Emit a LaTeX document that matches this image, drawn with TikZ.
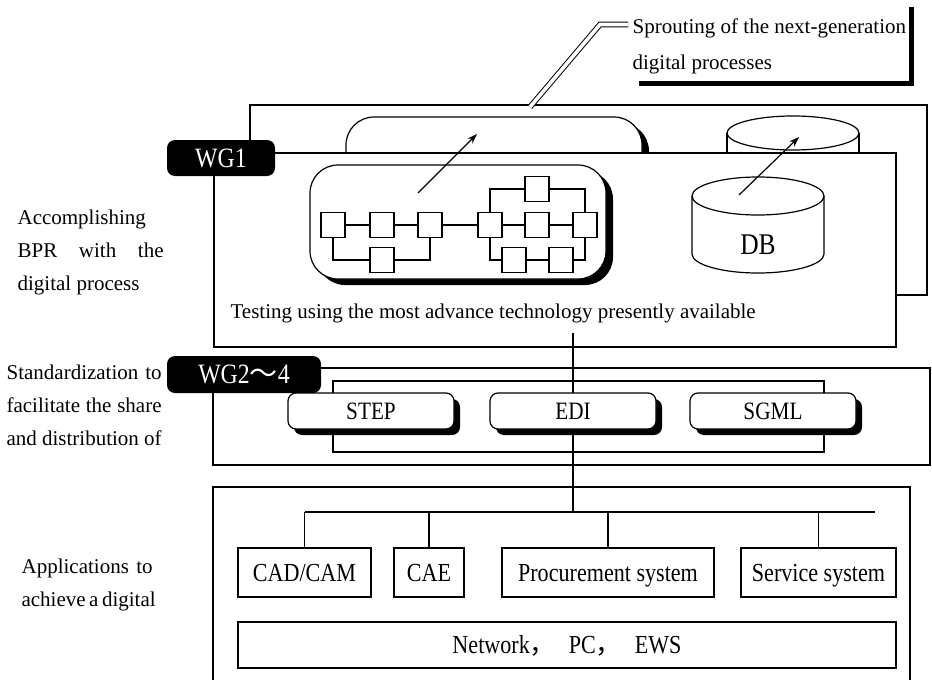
\documentclass[tikz,border=0pt]{standalone}
\usepackage{fontspec}
\setmainfont{Liberation Serif}
\newfontfamily\narrowfont[FakeStretch=0.85]{Liberation Serif}
\newfontfamily\cjkfont{Noto Sans CJK SC}
\usetikzlibrary{arrows.meta,calc,positioning,shadows}

\begin{document}
\begin{tikzpicture}[
  x=0.5pt, y=-0.5pt,
  >={Stealth[length=5pt,width=3.5pt]},
  line width=0.6pt,
  font=\fontsize{10.5}{16.5}\selectfont,
  bigpill/.style={draw, fill=white, rounded corners=14pt, minimum width=148pt, minimum height=57pt,
    drop shadow={shadow xshift=3.5pt, shadow yshift=-3pt, fill=black, opacity=1}},
  stdpill/.style={draw, fill=white, rounded corners=4pt, minimum width=83pt, minimum height=18pt, inner sep=0pt,
    font={\narrowfont\fontsize{12.5}{14}\selectfont}, text height=8.2pt, text depth=0pt,
    drop shadow={shadow xshift=3pt, shadow yshift=-3pt, fill=black, opacity=1}},
  wglabel/.style={fill=black, text=white, rounded corners=4pt, inner sep=0pt,
    font={\narrowfont\fontsize{14}{16}\selectfont}, text height=9.2pt, text depth=0pt},
  procbox/.style={draw, fill=white, minimum width=12pt, minimum height=12.5pt, inner sep=0pt},
  appbox/.style={draw, fill=white, minimum height=24.5pt, inner sep=0pt,
    font={\narrowfont\fontsize{13}{15}\selectfont}, text height=8.6pt, text depth=0pt},
  sidenote/.style={anchor=north west, inner sep=0pt, align=left},
  flow/.style={->}
]
\useasboundingbox (0,0) rectangle (932,680);

% next-generation layer (behind)
\draw[fill=white] (250,105) rectangle (927,295);
\node[bigpill] (nextproc) at (494,174) {};
\fill[white] (727,133) rectangle (859,200);
\draw (727,133) -- (727,200) (859,133) -- (859,200);
\draw[fill=white] (793,133) ellipse[x radius=33pt, y radius=8.5pt];

% WG1 layer
\draw[fill=white] (214,153) rectangle (896,347);
\node[wglabel, minimum width=54pt, minimum height=18pt] (wgone) at (221,158) {WG1};

\node[bigpill] (proc) at (458,222) {};
\foreach \name/\x in {sa/333, sb/382, sc/430, sd/490, se/537, sf/585}
  \node[procbox] (\name) at (\x,225) {};
\node[procbox] (tb) at (537,189) {};
\node[procbox] (ba) at (382,260) {};
\node[procbox] (bb) at (514,260) {};
\node[procbox] (bc) at (561,260) {};
\draw (sa) -- (sb) -- (sc) -- (sd) -- (se) -- (sf);
\draw (sa.south) |- (ba.west) (ba.east) -| (sc.south);
\draw (sd.north) |- (tb.west) (tb.east) -| (sf.north);
\draw (sd.south) |- (bb.west) (bb) -- (bc) (bc.east) -| (sf.south);

% DB
\draw[fill=white] (692,196) -- (692,254) arc[start angle=180, end angle=360, x radius=33pt, y radius=9.5pt] -- (824,196);
\draw (758,196) ellipse[x radius=33pt, y radius=9.5pt];
\node[font={\narrowfont\fontsize{15}{17}\selectfont}] (db) at (758,245) {DB};

\coordinate (procout) at (418,193);
\coordinate (nextin) at (477,134);
\draw[flow] (procout) -- (nextin);
\coordinate (dbout) at (739,195);
\coordinate (nextdb) at (799,137);
\draw[flow] (dbout) -- (nextdb);

\node[anchor=base west, inner sep=0pt] (testing) at (230,318) {Testing using the most advance technology presently available};

% callout
\node[sidenote, font=\fontsize{10.5}{18}\selectfont] (sprout) at (632,18) {Sprouting of the next-generation\\digital processes};
\coordinate (sproutfoot) at (530,107);
\coordinate (sprouttip) at (628,24.5);
\draw[double, double distance=1.8pt, line width=0.5pt] (sproutfoot) -- (600,24.5) -- (sprouttip);
\draw[line width=2.5pt] (639,83) -| (911,7);

% WG2-4 layer
\draw (213,368) rectangle (930,465);
\draw (333,381) rectangle (824,452);
\node[wglabel, minimum width=77pt, minimum height=18.5pt] (wgrest) at (244,374.5) {WG2{\cjkfont 〜}4};

\coordinate (tap) at (573,333);
\coordinate (bus) at (573,512);
\draw (tap) -- (bus);

\node[stdpill] (step) at (371,411) {STEP};
\node[stdpill] (edi) at (573,411) {EDI};
\node[stdpill] (sgml) at (773,411) {SGML};

% side notes
\node[sidenote] (bprnote) at (17,209) {Accomplishing\\\makebox[73pt][s]{BPR with the}\\digital process};
\node[sidenote] (stdnote) at (6,364) {\makebox[77.5pt][s]{Standardization to}\\\makebox[77.5pt][s]{facilitate the share}\\\makebox[77.5pt][s]{and distribution of}};
\node[sidenote] (appnote) at (21,558) {\makebox[65.5pt][s]{Applications to}\\\makebox[65.5pt][s]{achieve a digital}};

% applications layer
\draw (213,680) |- (910,487) -- (910,680);
\node[appbox, minimum width=66.5pt] (cad) at (304.5,572.5) {CAD/CAM};
\node[appbox, minimum width=35pt] (cae) at (429,572.5) {CAE};
\node[appbox, minimum width=106pt] (procure) at (608,572.5) {Procurement system};
\node[appbox, minimum width=77.5pt] (service) at (818.5,572.5) {Service system};
\node[appbox, minimum width=329pt, minimum height=23pt] (network) at (567,645) {Network{\cjkfont ，}\enspace PC{\cjkfont ，}\enspace EWS};
\coordinate (busend) at (875,512);
\draw (cad.north |- bus) -- (busend);
\foreach \app in {cad, cae, procure, service}
  \draw (\app.north) -- (\app.north |- bus);

\end{tikzpicture}
\end{document}
